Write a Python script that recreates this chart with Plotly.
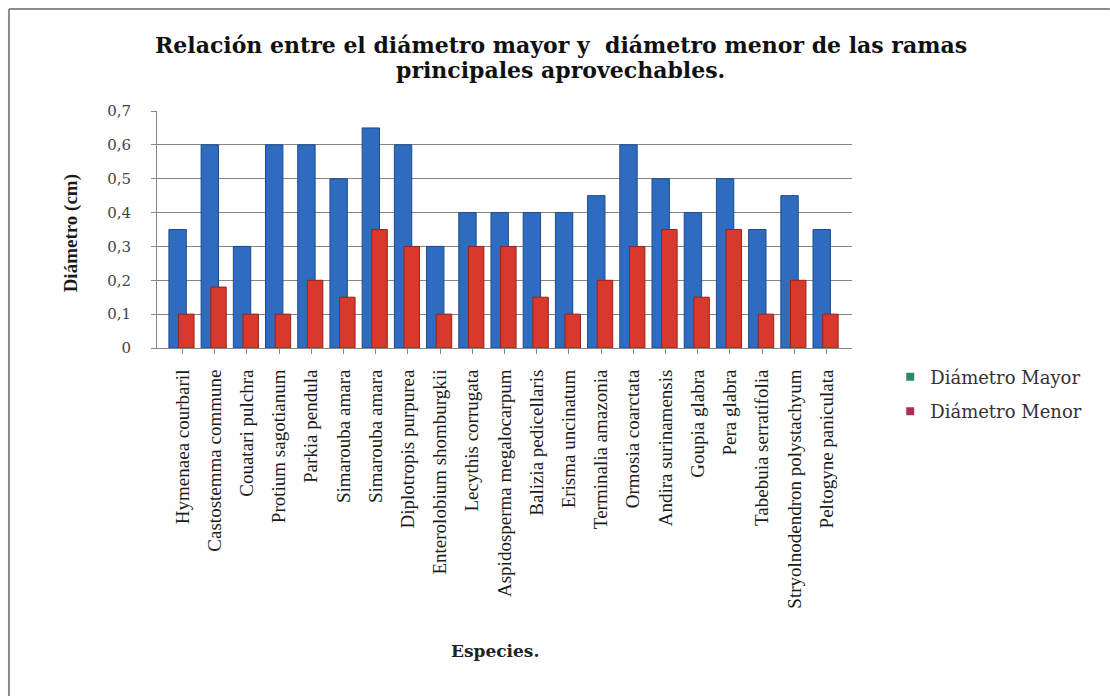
import plotly.graph_objects as go

species = ["Hymenaea courbaril", "Castostemma commune", "Couatari pulchra",
           "Protium sagotianum", "Parkia pendula", "Simarouba amara",
           "Simarouba amara", "Diplotropis purpurea", "Enterolobium shomburgkii",
           "Lecythis corrugata", "Aspidosperma megalocarpum", "Balizia pedicellaris",
           "Erisma uncinatum", "Terminalia amazonia", "Ormosia coarctata",
           "Andira surinamensis", "Goupia glabra", "Pera glabra",
           "Tabebuia serratifolia", "Stryolnodendron polystachyum", "Peltogyne paniculata"]
diam_mayor = [0.35, 0.60, 0.30, 0.60, 0.60, 0.50, 0.65, 0.60, 0.30, 0.40, 0.40,
              0.40, 0.40, 0.45, 0.60, 0.50, 0.40, 0.50, 0.35, 0.45, 0.35]
diam_menor = [0.10, 0.18, 0.10, 0.10, 0.20, 0.15, 0.35, 0.30, 0.10, 0.30, 0.30,
              0.15, 0.10, 0.20, 0.30, 0.35, 0.15, 0.35, 0.10, 0.20, 0.10]
y_ticks = [0, 0.1, 0.2, 0.3, 0.4, 0.5, 0.6, 0.7]
y_ticktext = ["0", "0,1", "0,2", "0,3", "0,4", "0,5", "0,6", "0,7"]
title_lines = ["Relación entre el diámetro mayor y  diámetro menor de las ramas",
               "principales aprovechables."]

x = list(range(len(species)))
serif = "Liberation Serif, Times New Roman, serif"
wide = "DejaVu Serif, serif"

fig = go.Figure()
fig.add_trace(go.Bar(x=x, y=diam_mayor, name="Diámetro Mayor", showlegend=False,
                     offset=-0.42, width=0.54,
                     marker=dict(color="#2f6cc0", line=dict(color="#1d4a8e", width=1))))
fig.add_trace(go.Bar(x=x, y=diam_menor, name="Diámetro Menor", showlegend=False,
                     offset=-0.12, width=0.48,
                     marker=dict(color="#d8392c", line=dict(color="#98231a", width=1))))
# legend entries (legend swatches in the original use different tints)
fig.add_trace(go.Scatter(x=[None], y=[None], mode="markers", name="Diámetro Mayor",
                         legendgroup="a",
                         marker=dict(symbol="square", size=8, color="#2e8a6c")))
fig.add_trace(go.Scatter(x=[None], y=[None], mode="markers", name="Diámetro Menor",
                         legendgroup="b",
                         marker=dict(symbol="square", size=8, color="#a83050")))

fig.update_layout(
    width=1110, height=696,
    margin=dict(l=157, r=258, t=111, b=348),
    paper_bgcolor="white", plot_bgcolor="white",
    barmode="overlay",
    font=dict(family=serif, size=15, color="#222"),
    xaxis=dict(tickmode="array", tickvals=x, ticktext=species, tickangle=-90,
               range=[-0.79, len(species) - 0.21], showgrid=False,
               showline=True, linecolor="#888", ticks="outside", ticklen=5,
               tickcolor="#888", ticklabelstandoff=8,
               tickfont=dict(family=serif, size=19, color="#1a1a1a")),
    yaxis=dict(range=[0, 0.7], tickmode="array", tickvals=y_ticks, ticktext=y_ticktext,
               showgrid=True, gridcolor="#858585", gridwidth=1,
               showline=True, linecolor="#888", ticks="outside", ticklen=5,
               tickcolor="#888", zeroline=False, ticklabelstandoff=17,
               tickfont=dict(family=wide, size=15, color="#444")),
    legend=dict(x=1.055, xanchor="left", y=-0.045, yanchor="top",
                font=dict(family=wide, size=18, color="#333"),
                itemwidth=30, tracegroupgap=8, traceorder="grouped"),
    showlegend=True,
)
for line, yy in zip(title_lines, [1.2785, 1.173]):
    fig.add_annotation(text="<b>" + line + "</b>",
                       xref="paper", yref="paper", x=0.581, y=yy, xanchor="center",
                       yanchor="middle", showarrow=False,
                       font=dict(family=wide, size=22, color="#111"))
fig.add_annotation(text="<b>Diámetro (cm)</b>", xref="paper", yref="paper",
                   x=-0.142, y=0.485, textangle=-90, showarrow=False,
                   font=dict(family=serif, size=19, color="#1a1a1a"))
fig.add_annotation(text="<b>Especies.</b>", xref="paper", yref="paper",
                   x=0.486, y=-1.329, showarrow=False,
                   font=dict(family=wide, size=17, color="#222"))
fig.add_shape(type="line", xref="paper", yref="paper",
              x0=-0.213, x1=1.371, y0=1.43, y1=1.43,
              line=dict(color="#8a8a8a", width=2))
fig.add_shape(type="line", xref="paper", yref="paper",
              x0=-0.213, x1=-0.213, y0=1.43, y1=-1.47,
              line=dict(color="#8a8a8a", width=2))

fig.write_html("out.html")
